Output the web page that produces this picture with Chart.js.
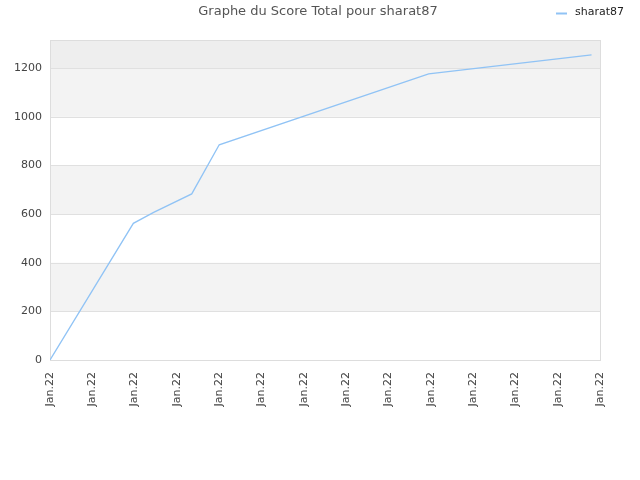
<!DOCTYPE html>
<html>
<head>
<meta charset="utf-8">
<script src="https://cdn.jsdelivr.net/npm/chart.js@4/dist/chart.umd.min.js"></script>
<style>
html,body{margin:0;padding:0;background:#fff;}
#wrap{width:640px;height:480px;}
</style>
</head>
<body>
<div id="wrap"><canvas id="c" width="640" height="480"></canvas></div>
<script>
const chartTitle = 'Graphe du Score Total pour sharat87';
const seriesName = 'sharat87';
const xTickLabels = ['Jan.22','Jan.22','Jan.22','Jan.22','Jan.22','Jan.22','Jan.22','Jan.22','Jan.22','Jan.22','Jan.22','Jan.22','Jan.22','Jan.22'];
const xPositions = [0, 1.97, 2.45, 3.35, 4.0, 8.95, 12.8];
const scores = [0, 562, 607, 683, 885, 1177, 1255];
const yTicks = [0, 200, 400, 600, 800, 1000, 1200];
const yMax = 1316;

const bandPlugin = {
  id: 'bands',
  beforeDatasetsDraw(chart) {
    const {ctx, chartArea: a, scales: {y}} = chart;
    const bands = [[200, 400, '#f3f3f3'], [600, 800, '#f3f3f3'], [1000, 1200, '#f3f3f3'], [1200, yMax, '#eeeeee']];
    ctx.save();
    bands.forEach(([lo, hi, col]) => {
      const t = y.getPixelForValue(hi), b = y.getPixelForValue(lo);
      ctx.fillStyle = col;
      ctx.fillRect(a.left, t, a.right - a.left, b - t);
    });
    ctx.strokeStyle = '#e0e0e0';
    ctx.lineWidth = 1;
    yTicks.slice(1).forEach(v => {
      const p = Math.round(y.getPixelForValue(v)) + 0.5;
      ctx.beginPath(); ctx.moveTo(a.left, p); ctx.lineTo(a.right, p); ctx.stroke();
    });
    ctx.strokeStyle = '#dddddd';
    ctx.strokeRect(Math.round(a.left) + 0.5, Math.round(a.top) + 0.5, Math.round(a.right - a.left), Math.round(a.bottom - a.top));
    ctx.restore();
  },
  afterDraw(chart) {
    const ctx = chart.ctx;
    ctx.save();
    ctx.font = '13px "DejaVu Sans"';
    ctx.fillStyle = '#555555';
    ctx.textAlign = 'center';
    ctx.textBaseline = 'middle';
    ctx.fillText(chartTitle, 318, 12);
    ctx.strokeStyle = '#90c3f5';
    ctx.lineWidth = 2;
    ctx.beginPath(); ctx.moveTo(556, 13.5); ctx.lineTo(567, 13.5); ctx.stroke();
    ctx.font = '11px "DejaVu Sans"';
    ctx.fillStyle = '#222222';
    ctx.textAlign = 'left';
    ctx.fillText(chart.data.datasets[0].label, 575, 12);
    ctx.restore();
  }
};

new Chart(document.getElementById('c'), {
  type: 'line',
  data: {
    datasets: [{
      label: seriesName,
      data: xPositions.map((x, i) => ({x: x, y: scores[i]})),
      borderColor: '#90c3f5',
      borderWidth: 1.3,
      pointRadius: 0,
      tension: 0,
      fill: false
    }]
  },
  options: {
    responsive: false,
    animation: false,
    devicePixelRatio: 1,
    layout: {padding: {left: 0, right: 40, top: 40, bottom: 0}},
    plugins: {legend: {display: false}, title: {display: false}, tooltip: {enabled: false}},
    scales: {
      x: {
        type: 'linear',
        min: 0, max: xTickLabels.length - 1,
        afterFit(s) { s.height = 120; },
        afterBuildTicks(s) { s.ticks = xTickLabels.map((_, i) => ({value: i})); },
        ticks: {
          autoSkip: false,
          maxRotation: 90, minRotation: 90,
          color: '#444444',
          font: {family: 'DejaVu Sans', size: 11},
          padding: 4,
          callback: (v) => xTickLabels[v] || ''
        },
        grid: {display: true, drawOnChartArea: false, drawTicks: true, tickLength: 8, color: 'rgba(0,0,0,0)'},
        border: {display: false}
      },
      y: {
        min: 0, max: yMax,
        afterFit(s) { s.width = 50; },
        afterBuildTicks(s) { s.ticks = yTicks.map(v => ({value: v})); },
        ticks: {
          color: '#444444',
          font: {family: 'DejaVu Sans', size: 11},
          padding: 8,
          callback: (v) => String(v)
        },
        grid: {display: false, drawTicks: false},
        border: {display: false}
      }
    }
  },
  plugins: [bandPlugin]
});
</script>
</body>
</html>
